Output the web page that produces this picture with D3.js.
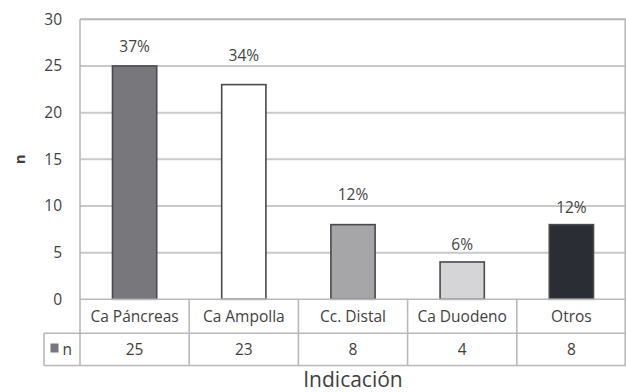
<!DOCTYPE html>
<html>
<head>
<meta charset="utf-8">
<script src="https://cdn.jsdelivr.net/npm/d3@7"></script>
<style>
  html, body { margin: 0; padding: 0; background: #fff; }
  svg { display: block; font-family: "Open Sans", "Noto Sans", sans-serif; }
</style>
</head>
<body>
<svg id="chart" width="626" height="392"></svg>
<script>
// Indications and case counts
const categories = ["Ca Páncreas", "Ca Ampolla", "Cc. Distal", "Ca Duodeno", "Otros"];
const counts = [25, 23, 8, 4, 8];
const percentLabels = ["37%", "34%", "12%", "6%", "12%"];
const yTicks = [0, 5, 10, 15, 20, 25, 30];
const seriesName = "n";
const axisTitle = "Indicación";

// Bar fills, one per indication
const fills = ["#78787c", "#ffffff", "#a6a6a9", "#d5d5d7", "#2b2d34"];
// Distance of each percentage label above its bar (px)
const labelGap = [19, 29, 30, 17, 17];

const svg = d3.select("#chart");
const plotLeft = 80, plotRight = 626, plotTop = 19.3, plotBase = 299.3;
const rowMid = 333.3, rowBottom = 365.5, legendLeft = 44;
const fs = 15.5;

const x = d3.scaleBand().domain(categories).range([plotLeft, plotRight]).padding(0);
const y = d3.scaleLinear().domain([0, 30]).range([plotBase, plotTop]);
const barW = x.bandwidth() * 0.405;

// Horizontal gridlines
svg.append("g").selectAll("line")
  .data(yTicks.filter(t => t > 0))
  .join("line")
  .attr("x1", plotLeft).attr("x2", plotRight)
  .attr("y1", d => y(d)).attr("y2", d => y(d))
  .attr("stroke", d => d === 30 ? "#b4b4b4" : "#c9c9c9")
  .attr("stroke-width", 2);

// Y tick labels
svg.append("g").selectAll("text")
  .data(yTicks)
  .join("text")
  .attr("x", 62)
  .attr("y", d => y(d))
  .attr("dy", "0.35em")
  .attr("text-anchor", "end")
  .attr("font-size", fs)
  .attr("fill", "#3f3f3f")
  .text(d => d);

// Y axis title
svg.append("text")
  .attr("transform", `translate(25,${y(15)}) rotate(-90)`)
  .attr("text-anchor", "middle")
  .attr("font-size", 15)
  .attr("font-weight", "bold")
  .attr("fill", "#3f3f3f")
  .text(seriesName);

// Bars
svg.append("g").selectAll("rect")
  .data(counts)
  .join("rect")
  .attr("x", (d, i) => x(categories[i]) + (x.bandwidth() - barW) / 2)
  .attr("y", d => y(d))
  .attr("width", barW)
  .attr("height", d => y(0) - y(d))
  .attr("fill", (d, i) => fills[i])
  .attr("stroke", "#4a4a4e")
  .attr("stroke-width", 1.6);

// Percentage labels
svg.append("g").selectAll("text")
  .data(counts)
  .join("text")
  .attr("x", (d, i) => x(categories[i]) + x.bandwidth() / 2)
  .attr("y", (d, i) => y(d) - labelGap[i])
  .attr("dy", "0.35em")
  .attr("text-anchor", "middle")
  .attr("font-size", fs)
  .attr("fill", "#444")
  .text((d, i) => percentLabels[i]);

// Data table beneath the plot
const grid = svg.append("g").attr("stroke", "#b9b9b9").attr("stroke-width", 1.6);
grid.append("line").attr("x1", plotLeft).attr("x2", plotRight)
  .attr("y1", plotBase).attr("y2", plotBase);
grid.append("line").attr("x1", legendLeft).attr("x2", plotRight)
  .attr("y1", rowMid).attr("y2", rowMid);
grid.append("line").attr("x1", legendLeft).attr("x2", plotRight)
  .attr("y1", rowBottom).attr("y2", rowBottom);
// Left axis line running through the table
grid.append("line").attr("x1", plotLeft).attr("x2", plotLeft)
  .attr("y1", plotTop).attr("y2", rowBottom);
grid.append("line").attr("x1", legendLeft).attr("x2", legendLeft)
  .attr("y1", rowMid).attr("y2", rowBottom);
grid.selectAll("line.col")
  .data(categories.slice(1))
  .join("line")
  .attr("class", "col")
  .attr("x1", d => x(d)).attr("x2", d => x(d))
  .attr("y1", plotBase).attr("y2", rowBottom);
grid.append("line").attr("x1", plotRight - 0.8).attr("x2", plotRight - 0.8)
  .attr("y1", plotTop).attr("y2", rowBottom);

// Category names
svg.append("g").selectAll("text")
  .data(categories)
  .join("text")
  .attr("x", d => x(d) + x.bandwidth() / 2)
  .attr("y", (plotBase + rowMid) / 2)
  .attr("dy", "0.35em")
  .attr("text-anchor", "middle")
  .attr("font-size", fs)
  .attr("fill", "#3f3f3f")
  .text(d => d);

// Count row
svg.append("g").selectAll("text")
  .data(counts)
  .join("text")
  .attr("x", (d, i) => x(categories[i]) + x.bandwidth() / 2)
  .attr("y", (rowMid + rowBottom) / 2)
  .attr("dy", "0.35em")
  .attr("text-anchor", "middle")
  .attr("font-size", fs)
  .attr("fill", "#3f3f3f")
  .text(d => d);

// Legend key in the table row header
svg.append("rect")
  .attr("x", 50.5).attr("y", 343.5)
  .attr("width", 8).attr("height", 9)
  .attr("fill", fills[0]);
svg.append("text")
  .attr("x", 62.5)
  .attr("y", (rowMid + rowBottom) / 2)
  .attr("dy", "0.35em")
  .attr("font-size", fs)
  .attr("fill", "#3f3f3f")
  .text(seriesName);

// X axis title
svg.append("text")
  .attr("x", (plotLeft + plotRight) / 2)
  .attr("y", 387)
  .attr("text-anchor", "middle")
  .attr("font-size", 21)
  .attr("fill", "#3f3f3f")
  .text(axisTitle);
</script>
</body>
</html>
